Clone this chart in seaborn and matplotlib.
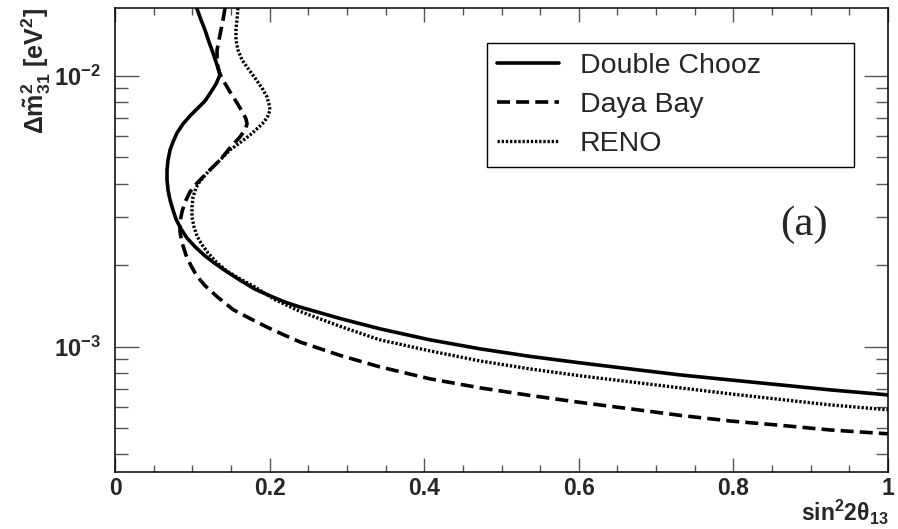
import matplotlib
matplotlib.use("Agg")
import numpy as np
import pandas as pd
import matplotlib.pyplot as plt
import matplotlib.ticker as mticker
import seaborn as sns

# ── Data ─────────────────────────────────────────────────────────────────────
dc_x = [0.1057, 0.1113, 0.1164, 0.1216, 0.1268, 0.1320, 0.1358, 0.1307, 0.1242,
        0.1164, 0.1074, 0.0970, 0.0880, 0.0802, 0.0750, 0.0712, 0.0686, 0.0673,
        0.0673, 0.0686, 0.0712, 0.0750, 0.0789, 0.0854, 0.0931, 0.1035, 0.1151,
        0.1281, 0.1436, 0.1617, 0.1811, 0.2005, 0.2199, 0.2393, 0.2911, 0.3428,
        0.4075, 0.4722, 0.5369, 0.6016, 0.6662, 0.7309, 0.7956, 0.8603, 0.9250,
        1.0]
dc_y = [0.01783, 0.01610, 0.01479, 0.01335, 0.01216, 0.01098, 0.01009, 0.00934,
        0.00873, 0.00808, 0.00762, 0.00712, 0.00665, 0.00616, 0.00570, 0.00533,
        0.00489, 0.00450, 0.00413, 0.00379, 0.00348, 0.00320, 0.00296, 0.00272,
        0.00252, 0.00234, 0.00218, 0.00204, 0.00190, 0.00176, 0.00163, 0.00154,
        0.00146, 0.00140, 0.00127, 0.001163, 0.001059, 0.000981, 0.000920,
        0.000871, 0.000827, 0.000786, 0.000753, 0.000722, 0.000692, 0.000663]

db_x = [0.1423, 0.1397, 0.1371, 0.1345, 0.1320, 0.1320, 0.1332, 0.1358, 0.1397,
        0.1488, 0.1578, 0.1656, 0.1695, 0.1708, 0.1682, 0.1617, 0.1488, 0.1358,
        0.1229, 0.1061, 0.0970, 0.0906, 0.0867, 0.0841, 0.0841, 0.0867, 0.0918,
        0.0983, 0.1061, 0.1164, 0.1320, 0.1527, 0.1746, 0.1966, 0.2199, 0.2393,
        0.2911, 0.3428, 0.4075, 0.4722, 0.5369, 0.6016, 0.6662, 0.7309, 0.7956,
        0.8603, 0.9250, 1.0]
db_y = [0.01783, 0.01610, 0.01479, 0.01358, 0.01247, 0.01156, 0.01079, 0.01017,
        0.00966, 0.00873, 0.00795, 0.00730, 0.00694, 0.00665, 0.00632, 0.00595,
        0.00542, 0.00489, 0.00450, 0.00402, 0.00373, 0.00342, 0.00315, 0.00289,
        0.00265, 0.00242, 0.00218, 0.00199, 0.00182, 0.00168, 0.00153, 0.00137,
        0.00127, 0.00118, 0.00110, 0.00104, 0.000928, 0.000841, 0.000760,
        0.000704, 0.000660, 0.000622, 0.000589, 0.000557, 0.000531, 0.000512,
        0.000492, 0.000476]

reno_x = [0.1591, 0.1578, 0.1565, 0.1565, 0.1591, 0.1643, 0.1708, 0.1811, 0.1902,
          0.1966, 0.1992, 0.2005, 0.1979, 0.1928, 0.1850, 0.1746, 0.1630, 0.1488,
          0.1358, 0.1203, 0.1100, 0.1048, 0.1009, 0.0996, 0.0996, 0.1022, 0.1061,
          0.1125, 0.1203, 0.1320, 0.1449, 0.1617, 0.1811, 0.2070, 0.2393, 0.2911,
          0.3428, 0.4075, 0.4722, 0.5369, 0.6016, 0.6662, 0.7309, 0.7956, 0.8603,
          0.9250, 1.0]
reno_y = [0.01783, 0.01610, 0.01479, 0.01358, 0.01247, 0.01146, 0.01079, 0.00983,
          0.00903, 0.00837, 0.00788, 0.00749, 0.00712, 0.00676, 0.00643, 0.00605,
          0.00570, 0.00533, 0.00489, 0.00442, 0.00409, 0.00386, 0.00357, 0.00328,
          0.00301, 0.00277, 0.00256, 0.00238, 0.00222, 0.00204, 0.00190, 0.00178,
          0.00166, 0.00149, 0.001349, 0.001188, 0.001059, 0.000964, 0.000885,
          0.000827, 0.000780, 0.000741, 0.000704, 0.000669, 0.000638, 0.000609,
          0.000584]

experiments = ["Double Chooz", "Daya Bay", "RENO"]
xticks = [0, 0.2, 0.4, 0.6, 0.8, 1.0]
xtick_labels = ["0", "0.2", "0.4", "0.6", "0.8", "1"]
yticks = [1e-3, 1e-2]
ytick_labels = [r"$\mathbf{10^{-3}}$", r"$\mathbf{10^{-2}}$"]
ylim = (3.44e-4, 1.783e-2)

# ── Style ────────────────────────────────────────────────────────────────────
sns.set_style("ticks")
plt.rcParams["font.family"] = ["Liberation Sans", "DejaVu Sans"]
plt.rcParams["mathtext.fontset"] = "custom"
plt.rcParams["mathtext.rm"] = "Liberation Sans"
plt.rcParams["mathtext.it"] = "Liberation Sans:italic"
plt.rcParams["mathtext.bf"] = "Liberation Sans:bold"
plt.rcParams["mathtext.sf"] = "Liberation Sans"

fig = plt.figure(figsize=(8.98, 5.29), dpi=100)
ax = fig.add_axes([115 / 898, 57 / 529, 773 / 898, 464 / 529])

styles = {
    "Double Chooz": dict(linestyle="-", linewidth=2.6),
    "Daya Bay": dict(linestyle=(0, (3.6, 1.7)), linewidth=2.6),
    "RENO": dict(linestyle=(0, (0.7, 0.55)), linewidth=2.4),
}
series = {
    "Double Chooz": (dc_x, dc_y),
    "Daya Bay": (db_x, db_y),
    "RENO": (reno_x, reno_y),
}

for name in experiments:
    xs, ys = series[name]
    df = pd.DataFrame({"x": xs, "y": ys})
    sns.lineplot(data=df, x="x", y="y", sort=False, estimator=None,
                 color="black", label=name, ax=ax, **styles[name])

ax.set_yscale("log")
ax.set_xlim(0, 1)
ax.set_ylim(*ylim)

ax.set_xticks(xticks)
ax.set_xticklabels(xtick_labels, fontsize=16.5, fontweight="bold")
ax.xaxis.set_minor_locator(mticker.MultipleLocator(0.05))
ax.yaxis.set_major_locator(mticker.FixedLocator(yticks))
ax.yaxis.set_major_formatter(mticker.FixedFormatter(ytick_labels))
ax.yaxis.set_minor_locator(mticker.LogLocator(base=10, subs=np.arange(2, 10)))
ax.yaxis.set_minor_formatter(mticker.NullFormatter())
for lab in ax.get_yticklabels():
    lab.set_fontsize(17)

ax.tick_params(which="both", direction="in", top=True, right=True,
               color="#555555", width=1.0)
ax.tick_params(axis="x", which="major", length=10, pad=3.5)
ax.tick_params(axis="x", which="minor", length=5)
ax.tick_params(axis="y", which="major", length=17, pad=10)
ax.tick_params(axis="y", which="minor", length=9)
for sp in ax.spines.values():
    sp.set_linewidth(1.1)
    sp.set_color("black")

ax.set_xlabel(r"$\mathbf{sin^{2}2\theta_{13}}$", fontsize=16.5, loc="right")
ax.xaxis.set_label_coords(1.0, -0.056)
ax.set_ylabel(r"$\mathbf{\Delta\tilde{m}^{2}_{31}\ [eV^{2}]}$", fontsize=18, loc="top")
ax.yaxis.set_label_coords(-0.080, 1.0)

leg = ax.legend(loc="upper left", bbox_to_anchor=(0.4812, 0.6638, 0.4748, 0.2608),
                mode="expand", borderaxespad=0, fontsize=20.5, frameon=True,
                fancybox=False, framealpha=1, edgecolor="black",
                handlelength=2.18, handletextpad=0.74, labelspacing=0.47,
                borderpad=0.34)
leg.get_frame().set_linewidth(1.0)

ax.text(0.891, 0.532, "(a)", transform=ax.transAxes, ha="center", va="center",
        fontsize=31, family="Liberation Serif")

fig.savefig("out.png", dpi=100)
